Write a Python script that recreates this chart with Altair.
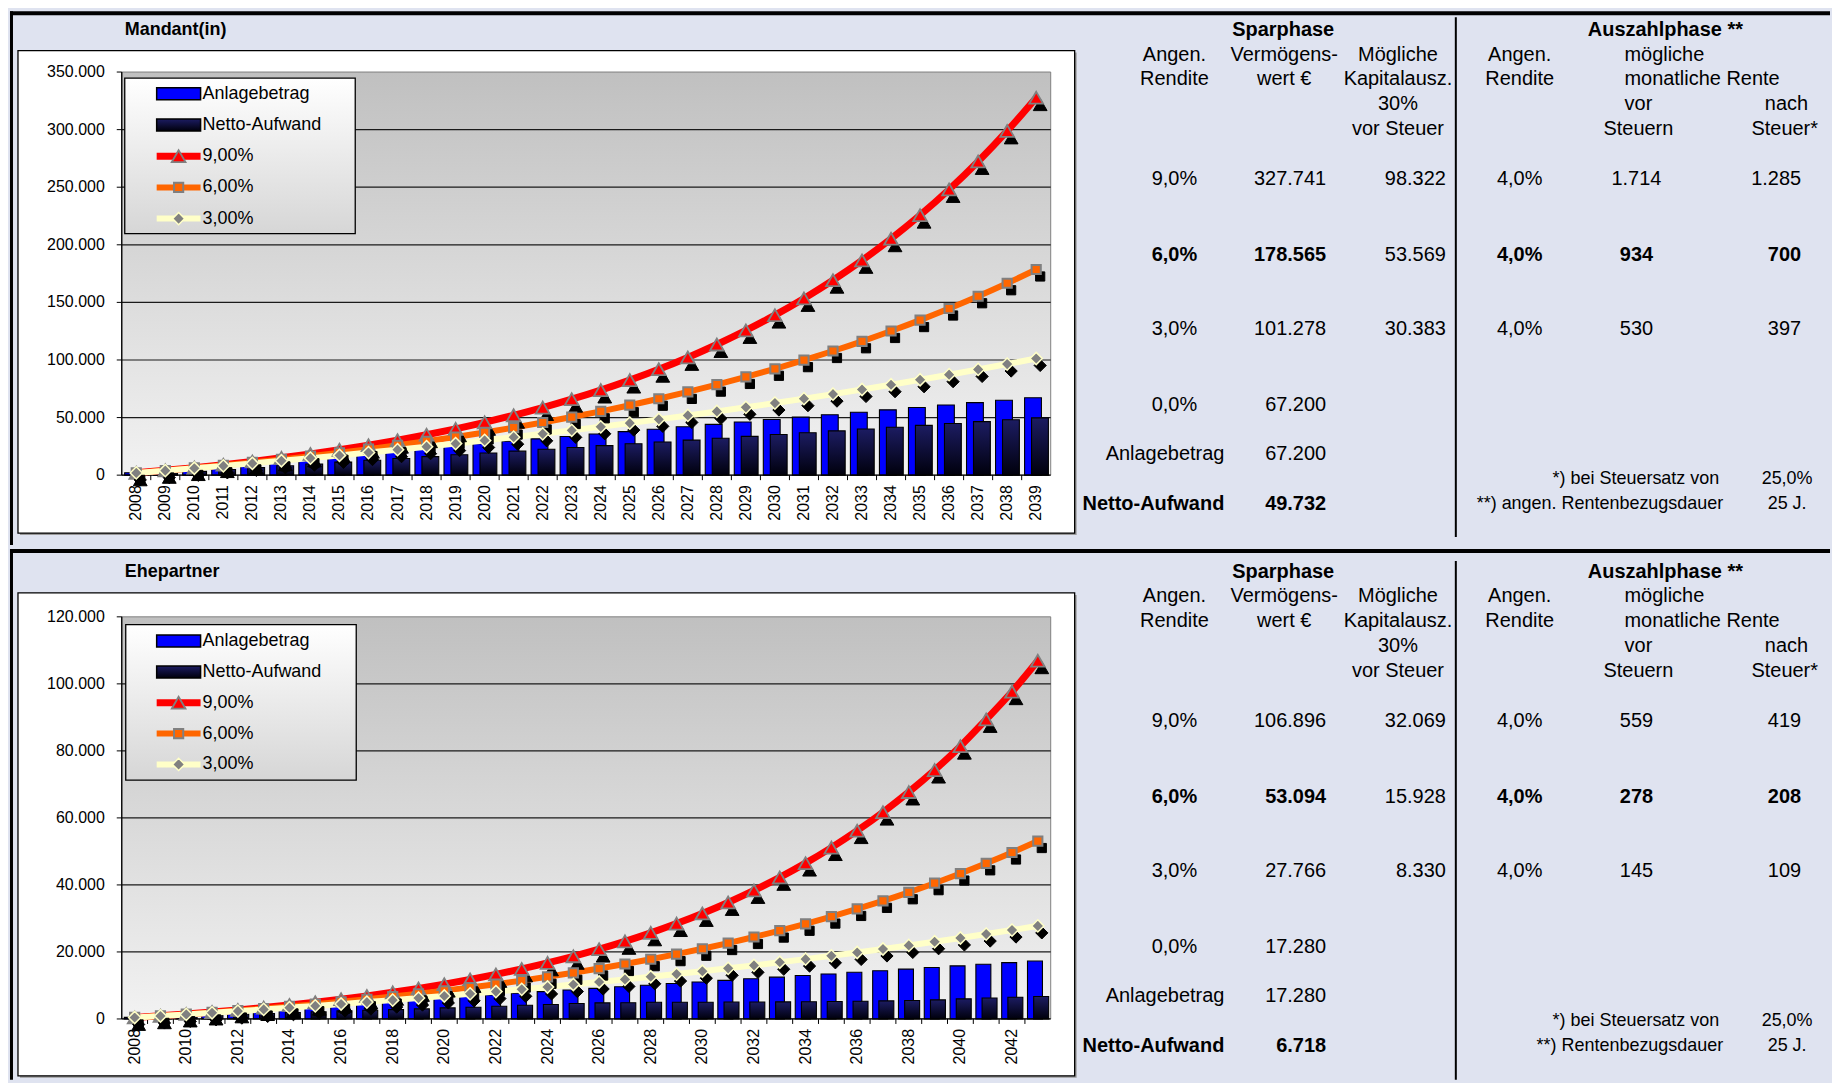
import altair as alt
import pandas as pd

FONT = "Liberation Sans"
BG = "#DFE3F0"
BLUE = "#0000FF"
RED = "#FF0000"
ORANGE = "#FF6600"
CREAM = "#FFFFC8"
GRAY = "#808080"

SERIES = ["Anlagebetrag", "Netto-Aufwand", "9,00%", "6,00%", "3,00%"]

# ---------------- Mandant(in) ----------------
years_m = list(range(2008, 2040))
anlage_m = [2100, 4200, 6300, 8400, 10500, 12600, 14700, 16800, 18900, 21000, 23100, 25200,
            27300, 29400, 31500, 33600, 35700, 37800, 39900, 42000, 44100, 46200, 48300, 50400,
            52500, 54600, 56700, 58800, 60900, 63000, 65100, 67200]
netto_m = [300, 1700, 3300, 4900, 6500, 8100, 9700, 11300, 12900, 14450, 16050, 17650,
           19250, 20850, 22450, 24050, 25650, 27250, 28850, 30450, 32050, 33650, 35250, 36850,
           38450, 40050, 41650, 43250, 44850, 46450, 48050, 49732]
fv9_m = [1998, 4176, 6550, 9137, 11957, 15032, 18382, 22035, 26016, 30355, 35085, 40241,
         45861, 51986, 58663, 65941, 73873, 82520, 91945, 102218, 113415, 125621, 138925, 153426,
         169232, 186462, 205241, 225710, 248022, 272342, 298851, 327741]
fv6_m = [1965, 4047, 6254, 8594, 11075, 13704, 16490, 19445, 22576, 25895, 29413, 33143,
         37096, 41286, 45728, 50436, 55427, 60718, 66325, 72269, 78570, 85249, 92328, 99833,
         107787, 116219, 125156, 134630, 144672, 155318, 166601, 178565]
fv3_m = [1929, 3916, 5962, 8070, 10241, 12478, 14781, 17153, 19597, 22114, 24706, 27376,
         30127, 32959, 35877, 38883, 41978, 45167, 48451, 51833, 55317, 58905, 62602, 66409,
         70330, 74369, 78529, 82814, 87227, 91773, 96455, 101278]
yticks_m = [0, 50000, 100000, 150000, 200000, 250000, 300000, 350000]
xlabels_m = years_m

# ---------------- Ehepartner ----------------
years_e = list(range(2008, 2044))
anlage_e = [480, 960, 1440, 1920, 2400, 2880, 3360, 3840, 4320, 4800, 5280, 5760,
            6240, 6720, 7200, 7680, 8160, 8640, 9120, 9600, 10080, 10560, 11040, 11520,
            12000, 12480, 12960, 13440, 13920, 14400, 14880, 15360, 15840, 16320, 16800, 17280]
netto_e = [300, 600, 900, 1150, 1400, 1650, 1900, 2150, 2400, 2600, 2800, 3000,
           3300, 3500, 3800, 4100, 4300, 4600, 4800, 4850, 5000, 5000, 5000, 5050,
           5050, 5100, 5150, 5200, 5300, 5400, 5500, 5700, 6000, 6250, 6500, 6718]
fv9_e = [453, 946, 1484, 2070, 2709, 3406, 4165, 4993, 5895, 6878, 7950, 9118,
         10391, 11779, 13292, 14941, 16738, 18697, 20833, 23161, 25698, 28463, 31478, 34763,
         38345, 42248, 46503, 51142, 56197, 61707, 67714, 74261, 81398, 89376, 97655, 106896]
fv6_e = [446, 918, 1419, 1950, 2513, 3109, 3741, 4412, 5122, 5875, 6673, 7519,
         8416, 9367, 10375, 11443, 12575, 13775, 15048, 16396, 17826, 19341, 20947, 22650,
         24454, 26367, 28395, 30545, 32823, 35238, 37798, 40512, 43388, 46437, 49669, 53094]
fv3_e = [439, 891, 1356, 1836, 2330, 2838, 3362, 3902, 4458, 5030, 5620, 6228,
         6853, 7498, 8161, 8845, 9549, 10275, 11022, 11791, 12584, 13400, 14241, 15107,
         15999, 16918, 17864, 18838, 19843, 20876, 21942, 23039, 24169, 25333, 26531, 27766]
yticks_e = [0, 20000, 40000, 60000, 80000, 100000, 120000]
xlabels_e = [2008, 2010, 2012, 2014, 2016, 2018, 2020, 2022, 2024, 2026, 2028, 2030,
             2032, 2034, 2036, 2038, 2040, 2042]

# ---------------- table values ----------------
rates_spar = ["9,0%", "6,0%", "3,0%", "0,0%"]
rate_auszahl = "4,0%"
verm_m = [327741, 178565, 101278, 67200]
kap_m = [98322, 53569, 30383]
vor_m = [1714, 934, 530]
nach_m = [1285, 700, 397]
anl_sum_m = 67200
net_sum_m = 49732
verm_e = [106896, 53094, 27766, 17280]
kap_e = [32069, 15928, 8330]
vor_e = [559, 278, 145]
nach_e = [419, 208, 109]
anl_sum_e = 17280
net_sum_e = 6718
steuersatz = "25,0%"
bezugsdauer = "25 J."
fn2_m = "**) angen. Rentenbezugsdauer"
fn2_e = "**) Rentenbezugsdauer"

# ---------------- layout / style ----------------
PW = 931
NAVY_GRAD = {"gradient": "linear", "x1": 0, "x2": 0, "y1": 0, "y2": 1,
             "stops": [{"offset": 0, "color": "#1c1c62"}, {"offset": 1, "color": "#00000c"}]}
PLOT_GRAD = {"gradient": "linear", "x1": 0, "x2": 0, "y1": 0, "y2": 1,
             "stops": [{"offset": 0, "color": "#C0C0C0"}, {"offset": 1, "color": "#F2F2F2"}]}
LEG_GRAD = {"gradient": "linear", "x1": 0, "x2": 0, "y1": 0, "y2": 1,
            "stops": [{"offset": 0, "color": "#FFFFFF"}, {"offset": 1, "color": "#D6D6D6"}]}

MARKERS = {
    "9,00%": dict(shape="triangle-up", fill=RED, stroke=GRAY, strokeWidth=1.8, size=190, line=RED, lw=7),
    "6,00%": dict(shape="square", fill=ORANGE, stroke=GRAY, strokeWidth=2, size=85, line=ORANGE, lw=6),
    "3,00%": dict(shape="diamond", fill=GRAY, stroke=CREAM, strokeWidth=1.5, size=150, line=CREAM, lw=6),
}

COL = dict(spar=1164, rate=1055, verm_h=1165, kap_h=1279, lab=1105, verm=1207, kap=1327,
           ausz=1547, rate2=1401, mon=1506, vor=1520, vor_v=1518, nach=1690, nach2=1700,
           nach_v=1683, fn1=1601, fn2=1605, fn_v=1669)
ROW = dict(h0=-42, h1=-17.5, h2=7, h3=32.5, h4=57, r9=107.7, r6=183.3, r3=257.7, r0=333.7,
           rA=382.7, rN=432.7, f1=408, f2=432.7)
TFS = 20
FNFS = 18


def de(v):
    return f"{v:,}".replace(",", ".")


def px_x(f):
    return alt.X(f"{f}:Q", scale=alt.Scale(domain=[0, PW], range=[0, PW], nice=False, zero=False), axis=None)


def px_y(f, ph):
    return alt.Y(f"{f}:Q", scale=alt.Scale(domain=[0, ph], range=[0, ph], nice=False, zero=False), axis=None)


def rect(df, ph, **mk):
    return alt.Chart(df).mark_rect(**mk).encode(
        x=px_x("x1"), x2=alt.X2("x2:Q"), y=px_y("y1", ph), y2=alt.Y2("y2:Q"))


def seg(df, ph, **mk):
    return alt.Chart(df).mark_rule(**mk).encode(
        x=px_x("x1"), x2=alt.X2("x2:Q"), y=px_y("y1", ph), y2=alt.Y2("y2:Q"))


def one(**kw):
    return pd.DataFrame([kw])


def build_main(years, anlage, netto, fv9, fv6, fv3, yticks, xlabels, ph):
    xs = alt.Scale(domain=[years[0] - 0.5, years[-1] + 0.5], nice=False, zero=False)
    ys = alt.Scale(domain=[yticks[0], yticks[-1]], nice=False, zero=False)
    n = len(years)
    bars = pd.DataFrame({"jahr": years, "anlage": anlage, "netto": netto})
    long = pd.DataFrame({"jahr": years * 3, "wert": fv9 + fv6 + fv3,
                         "serie": [SERIES[2]] * n + [SERIES[3]] * n + [SERIES[4]] * n})
    ytab = pd.DataFrame({"v": yticks, "lab": [de(v) for v in yticks]})
    grid = pd.DataFrame({"g": yticks[1:-1]})
    bounds = pd.DataFrame({"b": [y + 0.5 for y in years[:-1]]})
    xtab = pd.DataFrame({"jahr": xlabels, "lab": [str(y) for y in xlabels]})

    X = lambda f: alt.X(f"{f}:Q", scale=xs, axis=None)
    Y = lambda f: alt.Y(f"{f}:Q", scale=ys, axis=None)

    layers = []
    layers.append(alt.Chart(grid).mark_rule(color="#1a1a1a", strokeWidth=1.2).encode(y=Y("g")))
    layers.append(alt.Chart(bars).transform_calculate(
        x1="datum.jahr - 0.40", x2="datum.jahr + 0.18", z="0").mark_rect(
        fill=BLUE, stroke="black", strokeWidth=1.1).encode(
        x=X("x1"), x2="x2:Q", y=Y("anlage"), y2="z:Q"))
    layers.append(alt.Chart(bars).transform_calculate(
        x1="datum.jahr - 0.16", x2="datum.jahr + 0.42", z="0").mark_rect(
        fill=NAVY_GRAD, stroke="black", strokeWidth=1.1).encode(
        x=X("x1"), x2="x2:Q", y=Y("netto"), y2="z:Q"))
    # axes drawn through the scales
    layers.append(alt.Chart(ytab.iloc[[0]]).mark_rule(color="black", strokeWidth=1.3).encode(y=Y("v")))
    layers.append(alt.Chart(ytab.iloc[[0]]).mark_rule(color="black", strokeWidth=1.3).encode(
        x=alt.value(0), y=alt.value(0), y2=alt.value(ph)))
    layers.append(alt.Chart(ytab).mark_rule(color="black", strokeWidth=1).encode(
        x=alt.value(-5), x2=alt.value(0), y=Y("v")))
    layers.append(alt.Chart(ytab).mark_text(
        align="right", baseline="middle", font=FONT, fontSize=16, color="black").encode(
        x=alt.value(-17), y=Y("v"), text="lab:N"))
    layers.append(alt.Chart(bounds).mark_rule(color="black", strokeWidth=1).encode(
        x=X("b"), y=alt.value(ph), y2=alt.value(ph + 5)))
    layers.append(alt.Chart(xtab).mark_text(
        align="right", baseline="middle", angle=270, font=FONT, fontSize=16, color="black").encode(
        x=X("jahr"), y=alt.value(ph + 10), text="lab:N"))
    for s in SERIES[2:]:
        m = MARKERS[s]
        layers.append(alt.Chart(long).transform_filter(alt.datum.serie == s).mark_line(
            color=m["line"], strokeWidth=m["lw"], interpolate="monotone").encode(
            x=X("jahr"), y=Y("wert")))
    for s in SERIES[2:]:
        m = MARKERS[s]
        layers.append(alt.Chart(long).transform_filter(alt.datum.serie == s).mark_point(
            shape=m["shape"], filled=True, fill="black", stroke="black", strokeWidth=1,
            size=m["size"], opacity=1, xOffset=4, yOffset=7).encode(x=X("jahr"), y=Y("wert")))
        layers.append(alt.Chart(long).transform_filter(alt.datum.serie == s).mark_point(
            shape=m["shape"], filled=True, fill=m["fill"], stroke=m["stroke"],
            strokeWidth=m["strokeWidth"], size=m["size"], opacity=1).encode(x=X("jahr"), y=Y("wert")))
    return alt.layer(*layers)


def build_back(ph, sec, box, title, title_y, divider, dy, verm, kap, vor, nach, anl_sum, net_sum, fn2):
    sx1, sy1, sx2, sy2 = sec
    bx1, by1, bx2, by2 = box
    L = []
    L.append(rect(one(x1=sx1, x2=sx2, y1=sy1, y2=sy2), ph, fill=BG))
    L.append(seg(one(x1=sx1, x2=sx2, y1=sy1 + 2, y2=sy1 + 2), ph, color="black", strokeWidth=4))
    L.append(seg(one(x1=sx1 + 1.5, x2=sx1 + 1.5, y1=sy1, y2=sy2), ph, color="black", strokeWidth=3))
    L.append(rect(one(x1=bx1 + 2, x2=bx2 + 2, y1=by1 + 2, y2=by2 + 2), ph, fill="#9A9A9A"))
    L.append(rect(one(x1=bx1, x2=bx2, y1=by1, y2=by2), ph, fill="white", stroke="black", strokeWidth=1.3))
    L.append(rect(one(x1=0, x2=PW, y1=0, y2=ph), ph, fill=PLOT_GRAD, stroke=GRAY, strokeWidth=1))
    L.append(alt.Chart(one(t=title, x=3, y=title_y)).mark_text(
        align="left", baseline="middle", font=FONT, fontSize=18, fontWeight="bold", color="black").encode(
        x=px_x("x"), y=px_y("y", ph), text="t:N"))
    L.append(seg(one(x1=COL["kap"] + 10, x2=COL["kap"] + 10, y1=divider[0], y2=divider[1]), ph,
                 color="black", strokeWidth=2))

    rec = []

    def add(text, x, y, align="center", bold=False, size=TFS):
        rec.append(dict(text=text, tx=x, ty=y + dy, align=align, bold=bold, size=size))

    add("Sparphase", COL["spar"], ROW["h0"], bold=True)
    add("Angen.", COL["rate"], ROW["h1"])
    add("Rendite", COL["rate"], ROW["h2"])
    add("Vermögens-", COL["verm_h"], ROW["h1"])
    add("wert €", COL["verm_h"], ROW["h2"])
    add("Mögliche", COL["kap_h"], ROW["h1"])
    add("Kapitalausz.", COL["kap_h"], ROW["h2"])
    add("30%", COL["kap_h"], ROW["h3"])
    add("vor Steuer", COL["kap_h"], ROW["h4"])
    add("Auszahlphase **", COL["ausz"], ROW["h0"], bold=True)
    add("Angen.", COL["rate2"], ROW["h1"])
    add("Rendite", COL["rate2"], ROW["h2"])
    add("mögliche", COL["mon"], ROW["h1"], "left")
    add("monatliche Rente", COL["mon"], ROW["h2"], "left")
    add("vor", COL["vor"], ROW["h3"])
    add("Steuern", COL["vor"], ROW["h4"])
    add("nach", COL["nach"], ROW["h3"], "right")
    add("Steuer*", COL["nach2"], ROW["h4"], "right")
    for i, r in enumerate(["r9", "r6", "r3"]):
        b = (i == 1)
        add(rates_spar[i], COL["rate"], ROW[r], bold=b)
        add(de(verm[i]), COL["verm"], ROW[r], "right", b)
        add(de(kap[i]), COL["kap"], ROW[r], "right")
        add(rate_auszahl, COL["rate2"], ROW[r], bold=b)
        add(de(vor[i]), COL["vor_v"], ROW[r], bold=b)
        add(de(nach[i]), COL["nach_v"], ROW[r], "right", b)
    add(rates_spar[3], COL["rate"], ROW["r0"])
    add(de(verm[3]), COL["verm"], ROW["r0"], "right")
    add(SERIES[0], COL["lab"], ROW["rA"], "right")
    add(de(anl_sum), COL["verm"], ROW["rA"], "right")
    add(SERIES[1], COL["lab"], ROW["rN"], "right", True)
    add(de(net_sum), COL["verm"], ROW["rN"], "right", True)
    add("*) bei Steuersatz von", COL["fn1"], ROW["f1"], "right", size=FNFS)
    add(steuersatz, COL["fn_v"], ROW["f1"], size=FNFS)
    add(fn2, COL["fn2"], ROW["f2"], "right", size=FNFS)
    add(bezugsdauer, COL["fn_v"], ROW["f2"], size=FNFS)
    tdf = pd.DataFrame(rec)
    for align in ["left", "center", "right"]:
        for bold in [False, True]:
            for size in [TFS, FNFS]:
                sub = tdf[(tdf["align"] == align) & (tdf["bold"] == bold) & (tdf["size"] == size)]
                sub = sub[["text", "tx", "ty"]]
                if len(sub):
                    L.append(alt.Chart(sub).mark_text(
                        align=align, baseline="middle", font=FONT, fontSize=size,
                        fontWeight="bold" if bold else "normal", color="black").encode(
                        x=px_x("tx"), y=px_y("ty", ph), text="text:N"))
    return alt.layer(*L)


def build_legend(ph, box, y0, step):
    bx1, by1, bx2, by2 = box
    L = [rect(one(x1=bx1, x2=bx2, y1=by1, y2=by2), ph, fill=LEG_GRAD, stroke="black", strokeWidth=1.3)]
    ent = pd.DataFrame({"label": SERIES, "ly": [y0 + i * step for i in range(len(SERIES))]})
    ent["x1"] = 35
    ent["x2"] = 79
    ent["xm"] = 57
    ent["tx"] = 81
    ent["y1"] = ent["ly"] - 6
    ent["y2"] = ent["ly"] + 6
    L.append(rect(ent.iloc[[0]], ph, fill=BLUE, stroke="black", strokeWidth=1.5))
    L.append(rect(ent.iloc[[1]], ph, fill=NAVY_GRAD, stroke="black", strokeWidth=1.5))
    for i, s in enumerate(SERIES[2:], start=2):
        m = MARKERS[s]
        row = ent.iloc[[i]]
        L.append(alt.Chart(row).mark_rule(color=m["line"], strokeWidth=m["lw"]).encode(
            x=px_x("x1"), x2=alt.X2("x2:Q"), y=px_y("ly", ph)))
        L.append(alt.Chart(row).mark_point(
            shape=m["shape"], filled=True, fill=m["fill"], stroke=m["stroke"],
            strokeWidth=m["strokeWidth"], size=m["size"], opacity=1).encode(
            x=px_x("xm"), y=px_y("ly", ph)))
    L.append(alt.Chart(ent).mark_text(align="left", baseline="middle", font=FONT, fontSize=18,
                                      color="black").encode(
        x=px_x("tx"), y=px_y("ly", ph), text="label:N"))
    return alt.layer(*L)


def build_row(ph, main, back, front):
    return alt.layer(back, main, front).resolve_scale(x="independent", y="independent").properties(
        width=PW, height=ph)


PH_M = 404
PH_E = 403

main_m = build_main(years_m, anlage_m, netto_m, fv9_m, fv6_m, fv3_m, yticks_m, xlabels_m, PH_M)
back_m = build_back(PH_M, (-112, -61, 1712, 474), (-104, -21.5, 955, 462), "Mandant(in)", -42,
                    (-55, 466), 0, verm_m, kap_m, vor_m, nach_m, anl_sum_m, net_sum_m, fn2_m)
front_m = build_legend(PH_M, (3, 6, 234, 162), 21.7, 31.3)
row_m = build_row(PH_M, main_m, back_m, front_m)

main_e = build_main(years_e, anlage_e, netto_e, fv9_e, fv6_e, fv3_e, yticks_e, xlabels_e, PH_E)
back_e = build_back(PH_E, (-112, -68, 1712, 464), (-104, -24, 955, 460), "Ehepartner", -45,
                    (-56, 464), -3, verm_e, kap_e, vor_e, nach_e, anl_sum_e, net_sum_e, fn2_e)
front_e = build_legend(PH_E, (4, 7.7, 235, 163.7), 24.3, 30.9)
row_e = build_row(PH_E, main_e, back_e, front_e)

chart = alt.vconcat(row_m, row_e, spacing=0).configure(
    background=BG, padding=0, font=FONT).configure_view(strokeWidth=0)

chart.save("out.html", embed_options={"renderer": "svg", "actions": False})
